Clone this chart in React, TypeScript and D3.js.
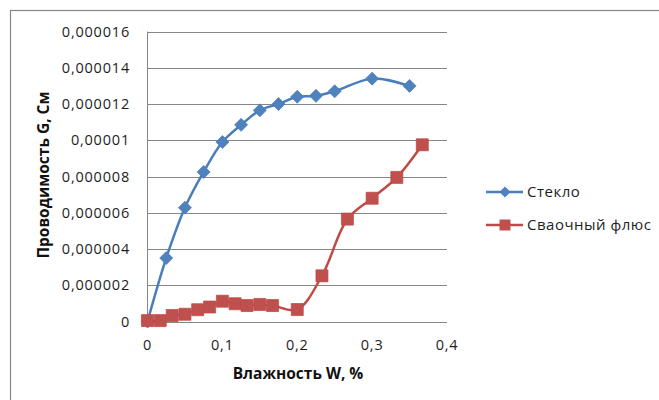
import { useEffect, useRef } from "react";
import * as d3 from "d3";

// Стекло
const glassW = [0, 0.025, 0.05, 0.075, 0.1, 0.125, 0.15, 0.175, 0.2, 0.225, 0.25, 0.3, 0.35];
const glassG = [0, 3.5e-6, 6.28e-6, 8.25e-6, 9.9e-6, 10.85e-6, 11.65e-6, 12.0e-6, 12.4e-6, 12.45e-6, 12.7e-6, 13.4e-6, 13.0e-6];

// Сваочный флюс
const fluxW = [0, 0.017, 0.033, 0.05, 0.067, 0.083, 0.1, 0.117, 0.133, 0.15, 0.167, 0.2, 0.233, 0.267, 0.3, 0.333, 0.367];
const fluxG = [0.05e-6, 0.05e-6, 0.33e-6, 0.4e-6, 0.65e-6, 0.8e-6, 1.12e-6, 0.98e-6, 0.88e-6, 0.94e-6, 0.88e-6, 0.66e-6, 2.52e-6, 5.65e-6, 6.8e-6, 7.95e-6, 9.75e-6];

const xTicks = [0, 0.1, 0.2, 0.3, 0.4];
const yTicks = [0, 2e-6, 4e-6, 6e-6, 8e-6, 10e-6, 12e-6, 14e-6, 16e-6];
const yTickLabels = ["0", "0,000002", "0,000004", "0,000006", "0,000008", "0,00001", "0,000012", "0,000014", "0,000016"];

const seriesNames = ["Стекло", "Сваочный флюс"];

export default function App() {
  const ref = useRef<SVGSVGElement>(null);

  useEffect(() => {
    const width = 659;
    const height = 400;
    const left = 147.5, right = 447, top = 31.5, bottom = 321.5;
    const font = "'Open Sans', sans-serif";
    const grid = "#868686";
    const ink = "#1e1e1e";

    const svg = d3.select(ref.current);
    svg.selectAll("*").remove();

    svg.append("rect").attr("width", width).attr("height", height).attr("fill", "#fff");
    // chart border
    svg.append("rect")
      .attr("x", 10.5).attr("y", 10.5)
      .attr("width", 700).attr("height", 500)
      .attr("fill", "none").attr("stroke", grid).attr("stroke-width", 1.2);

    const x = d3.scaleLinear([0, 0.4], [left, right]);
    const y = d3.scaleLinear([0, 16e-6], [bottom, top]);

    // gridlines
    svg.append("g")
      .selectAll("line")
      .data(yTicks)
      .join("line")
        .attr("x1", left).attr("x2", right)
        .attr("y1", d => Math.round(y(d)) + 0.5).attr("y2", d => Math.round(y(d)) + 0.5)
        .attr("stroke", grid).attr("stroke-width", 1);

    svg.append("line")
      .attr("x1", left).attr("x2", left)
      .attr("y1", top).attr("y2", bottom + 0.5)
      .attr("stroke", grid).attr("stroke-width", 1);

    // tick labels
    svg.append("g")
      .selectAll("text")
      .data(yTicks)
      .join("text")
        .attr("x", 130)
        .attr("y", d => y(d))
        .attr("dy", "0.36em")
        .attr("text-anchor", "end")
        .attr("font-family", font)
        .attr("font-size", 14.5)
        .attr("letter-spacing", 0.8)
        .attr("fill", ink)
        .text((d, i) => yTickLabels[i]);

    svg.append("g")
      .selectAll("text")
      .data(xTicks)
      .join("text")
        .attr("x", d => x(d))
        .attr("y", 350)
        .attr("text-anchor", "middle")
        .attr("font-family", font)
        .attr("font-size", 14.5)
        .attr("letter-spacing", 0.8)
        .attr("fill", ink)
        .text(d => String(d).replace(".", ","));

    // axis titles
    svg.append("text")
      .attr("x", 298).attr("y", 379)
      .attr("text-anchor", "middle")
      .attr("font-family", font).attr("font-size", 15.5).attr("font-weight", "bold")
      .attr("fill", "#111")
      .text("Влажность W, %");

    svg.append("text")
      .attr("transform", "translate(49,175) rotate(-90)")
      .attr("text-anchor", "middle")
      .attr("font-family", font).attr("font-size", 15.5).attr("font-weight", "bold")
      .attr("fill", "#111")
      .text("Проводимость G, См");

    const line = d3.line<[number, number]>()
      .x(d => x(d[0]))
      .y(d => y(d[1]))
      .curve(d3.curveCatmullRom);

    const glass: [number, number][] = glassW.map((w, i) => [w, glassG[i]]);
    const flux: [number, number][] = fluxW.map((w, i) => [w, fluxG[i]]);

    const diamond = (r: number) => `M0,${-r}L${r},0L0,${r}L${-r},0Z`;
    const square = (s: number) => `M${-s / 2},${-s / 2}h${s}v${s}h${-s}Z`;

    const blue = "#4A7EBB", blueM = "#4F81BD";
    const red = "#BE4B48", redM = "#C0504D";

    svg.append("path")
      .datum(glass)
      .attr("fill", "none").attr("stroke", blue).attr("stroke-width", 2.5)
      .attr("stroke-linejoin", "round")
      .attr("d", line);
    svg.append("g")
      .selectAll("path")
      .data(glass)
      .join("path")
        .attr("transform", d => `translate(${x(d[0])},${y(d[1])})`)
        .attr("d", diamond(6.5))
        .attr("fill", blueM).attr("stroke", blue).attr("stroke-width", 0.75);

    svg.append("path")
      .datum(flux)
      .attr("fill", "none").attr("stroke", red).attr("stroke-width", 2.5)
      .attr("stroke-linejoin", "round")
      .attr("d", line);
    svg.append("g")
      .selectAll("path")
      .data(flux)
      .join("path")
        .attr("transform", d => `translate(${x(d[0])},${y(d[1])})`)
        .attr("d", square(12))
        .attr("fill", redM).attr("stroke", red).attr("stroke-width", 0.75);

    // legend
    const legend = svg.append("g")
      .selectAll("g")
      .data(seriesNames)
      .join("g")
        .attr("transform", (d, i) => `translate(486,${192 + i * 33})`);
    legend.append("line")
      .attr("x1", 0).attr("x2", 37)
      .attr("stroke", (d, i) => (i === 0 ? blue : red))
      .attr("stroke-width", 2.5);
    legend.append("path")
      .attr("transform", "translate(19,0)")
      .attr("d", (d, i) => (i === 0 ? diamond(5.5) : square(11)))
      .attr("fill", (d, i) => (i === 0 ? blueM : redM));
    legend.append("text")
      .attr("x", 41)
      .attr("dy", "0.36em")
      .attr("font-family", font).attr("font-size", 15)
      .attr("letter-spacing", 0.5)
      .attr("fill", ink)
      .text(d => d);
  }, []);

  return (
    <svg
      ref={ref}
      width={659}
      height={400}
      style={{ position: "absolute", left: 0, top: 0, display: "block" }}
    />
  );
}
